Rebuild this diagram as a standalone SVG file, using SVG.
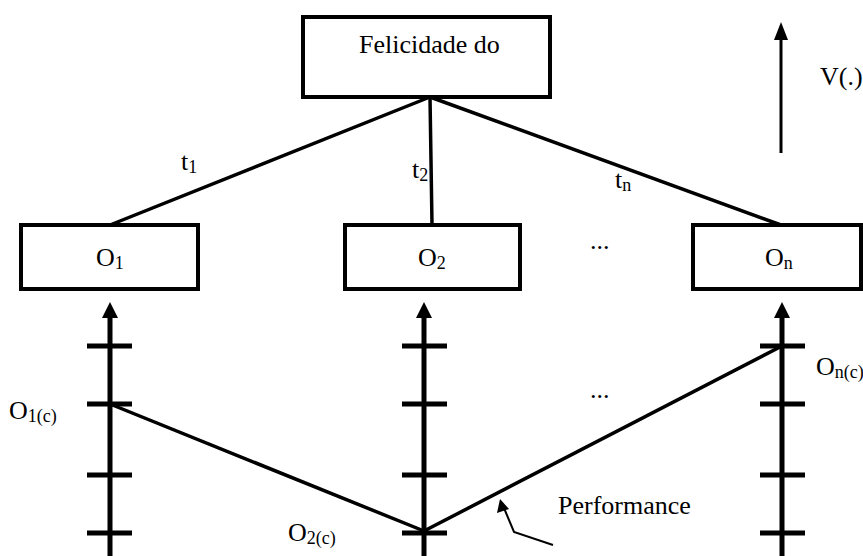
<svg xmlns="http://www.w3.org/2000/svg" width="863" height="556" viewBox="0 0 863 556">
<style>
.sub{font-size:18px}
.box{fill:#fff;stroke:#000;stroke-width:4}
.ln{stroke:#000;stroke-width:3.5;fill:none}
.ax{stroke:#000;stroke-width:5;fill:none}
.tk{stroke:#000;stroke-width:5}
.thin{stroke:#000;stroke-width:2;fill:none}
</style>
<rect width="863" height="556" fill="#fff"/>
<g id="connectors">
<line class="ln" x1="430" y1="97" x2="110" y2="225"/>
<line class="ln" x1="430" y1="97" x2="432" y2="225"/>
<line class="ln" x1="430" y1="97" x2="781" y2="225"/>
<line class="ln" x1="110" y1="404" x2="424" y2="531"/>
<line class="ln" x1="424" y1="531" x2="782" y2="346"/>
<path class="thin" d="M553,545 L514,532 L504,508"/>
<path d="M500,499 L497,513 L509,509 z" fill="#000"/>
<line stroke="#000" stroke-width="3" x1="781" y1="153" x2="781" y2="36"/>
<path d="M781,22 L774,40 L788,40 z" fill="#000"/>
</g>
<g id="axis1">
<line class="ax" x1="110" y1="556" x2="110" y2="316"/>
<path d="M110,302 L102,318 L118,318 z" fill="#000"/>
<line class="tk" x1="87" y1="346" x2="132" y2="346"/>
<line class="tk" x1="87" y1="404" x2="132" y2="404"/>
<line class="tk" x1="87" y1="475" x2="132" y2="475"/>
<line class="tk" x1="87" y1="533" x2="132" y2="533"/>
</g>
<g id="axis2">
<line class="ax" x1="424" y1="556" x2="424" y2="316"/>
<path d="M424,302 L416,318 L432,318 z" fill="#000"/>
<line class="tk" x1="402" y1="346" x2="447" y2="346"/>
<line class="tk" x1="402" y1="404" x2="447" y2="404"/>
<line class="tk" x1="402" y1="475" x2="447" y2="475"/>
<line class="tk" x1="402" y1="533" x2="447" y2="533"/>
</g>
<g id="axisn">
<line class="ax" x1="782" y1="556" x2="782" y2="316"/>
<path d="M782,302 L774,318 L790,318 z" fill="#000"/>
<line class="tk" x1="760" y1="346" x2="805" y2="346"/>
<line class="tk" x1="760" y1="404" x2="805" y2="404"/>
<line class="tk" x1="760" y1="475" x2="805" y2="475"/>
<line class="tk" x1="760" y1="533" x2="805" y2="533"/>
</g>
<g font-family="Liberation Serif, Times New Roman, serif" font-size="26" fill="#000">
<g id="top">
<rect class="box" x="303" y="17" width="247" height="80"/>
<text x="359" y="53">Felicidade do</text>
</g>
<g id="o1">
<rect class="box" x="21" y="225" width="177" height="64"/>
<text x="96" y="266">O<tspan class="sub" dy="3">1</tspan></text>
</g>
<g id="o2">
<rect class="box" x="345" y="225" width="175" height="64"/>
<text x="418" y="266">O<tspan class="sub" dy="3">2</tspan></text>
</g>
<g id="on">
<rect class="box" x="693" y="225" width="168" height="64"/>
<text x="765" y="266">O<tspan class="sub" dy="3">n</tspan></text>
</g>
<g id="labels">
<text x="181" y="170">t<tspan class="sub" dy="3">1</tspan></text>
<text x="412" y="178">t<tspan class="sub" dy="3">2</tspan></text>
<text x="615" y="188">t<tspan class="sub" dy="3">n</tspan></text>
<text x="590" y="249">...</text>
<text x="590" y="398">...</text>
<text x="820" y="85">V(.)</text>
<text x="9" y="419">O<tspan class="sub" dy="3">1(c)</tspan></text>
<text x="288" y="541">O<tspan class="sub" dy="3">2(c)</tspan></text>
<text x="816" y="375">O<tspan class="sub" dy="3">n(c)</tspan></text>
<text x="558" y="514">Performance</text>
</g>
</g>
</svg>
